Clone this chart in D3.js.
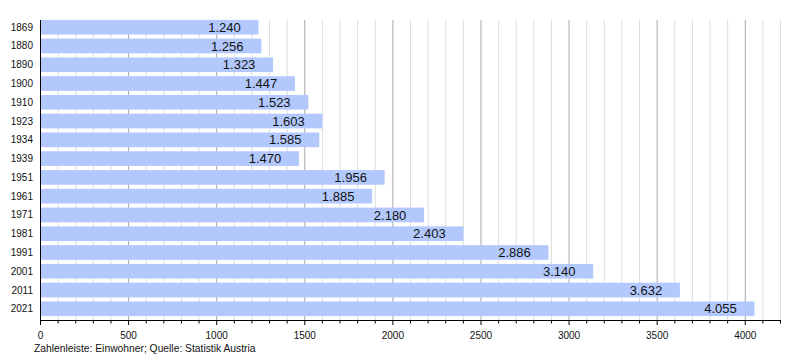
<!DOCTYPE html>
<html><head><meta charset="utf-8">
<script src="https://cdn.jsdelivr.net/npm/d3@7"></script>
<style>body{margin:0;background:#fff}svg{display:block}</style>
</head><body>
<svg id="c" width="800" height="360"></svg>
<script>
const years = ["1869","1880","1890","1900","1910","1923","1934","1939","1951","1961","1971","1981","1991","2001","2011","2021"];
const population = [1240,1256,1323,1447,1523,1603,1585,1470,1956,1885,2180,2403,2886,3140,3632,4055];
const xTicks = [0,500,1000,1500,2000,2500,3000,3500,4000];
const footer = "Zahlenleiste: Einwohner; Quelle: Statistik Austria";

(function(){
const svg = d3.select("#c");
const font = "'Liberation Sans', Arial, sans-serif";
const pL = 40, pR = 780, pT = 20, pB = 320;

const x = d3.scaleLinear().domain([0, 4200]).range([pL, pR]);
const y = d3.scaleBand().domain(years).range([18, 318]).paddingInner(0.22).paddingOuter(0.1);

const de = d3.formatLocale({decimal: ",", thousands: ".", grouping: [3], currency: ["", "€"]});
const fmt = de.format(",d");

// grid
const minor = d3.range(100, 4201, 100).filter(v => v % 500 !== 0);
svg.append("g").selectAll("line").data(minor).join("line")
  .attr("x1", d => x(d)+0.5).attr("x2", d => x(d)+0.5)
  .attr("y1", pT).attr("y2", pB)
  .attr("stroke", "#dddddd").attr("stroke-width", 1);
svg.append("g").selectAll("line").data(xTicks.filter(v => v > 0)).join("line")
  .attr("x1", d => x(d)+0.5).attr("x2", d => x(d)+0.5)
  .attr("y1", pT).attr("y2", pB)
  .attr("stroke", "#a8a8a8").attr("stroke-width", 1);

// bars
svg.append("g").selectAll("rect").data(population).join("rect")
  .attr("x", x(0)+1).attr("y", (d,i) => y(years[i]))
  .attr("width", d => x(d) - x(0) - 1).attr("height", y.bandwidth())
  .attr("fill", "#b3c9fe");

// value labels
svg.append("g").selectAll("text").data(population).join("text")
  .attr("x", d => x(d) - 34).attr("y", (d,i) => y(years[i]) + y.bandwidth()/2 + 4.6)
  .attr("text-anchor", "middle").attr("font-family", font).attr("font-size", 13)
  .attr("fill", "#111").text(d => fmt(d));

// year labels
svg.append("g").selectAll("text").data(years).join("text")
  .attr("x", 33).attr("y", d => y(d) + y.bandwidth()/2 + 3.5)
  .attr("text-anchor", "end").attr("font-family", font).attr("font-size", 10)
  .attr("fill", "#111").text(d => d);

// axes lines
svg.append("line").attr("x1", pL+0.5).attr("x2", pL+0.5).attr("y1", pT).attr("y2", pB)
  .attr("stroke", "#000").attr("stroke-width", 1);
svg.append("line").attr("x1", pL).attr("x2", pR+1).attr("y1", pB+0.5).attr("y2", pB+0.5)
  .attr("stroke", "#000").attr("stroke-width", 1);

// x-axis ticks
const g = svg.append("g");
g.selectAll("line.mi").data(d3.range(0, 4201, 100)).join("line")
  .attr("x1", d => x(d)+0.5).attr("x2", d => x(d)+0.5)
  .attr("y1", pB).attr("y2", d => d % 500 === 0 ? pB+5 : pB+3.5)
  .attr("stroke", "#000");
g.selectAll("text").data(xTicks).join("text")
  .attr("x", d => x(d)+0.5).attr("y", pB + 18.5)
  .attr("text-anchor", "middle").attr("font-family", font).attr("font-size", 10)
  .attr("fill", "#111").text(d => d);

svg.append("text").attr("x", 34).attr("y", 352).attr("font-family", font).attr("font-size", 10.3)
  .attr("fill", "#111").text(footer);
})();
</script>
</body></html>
